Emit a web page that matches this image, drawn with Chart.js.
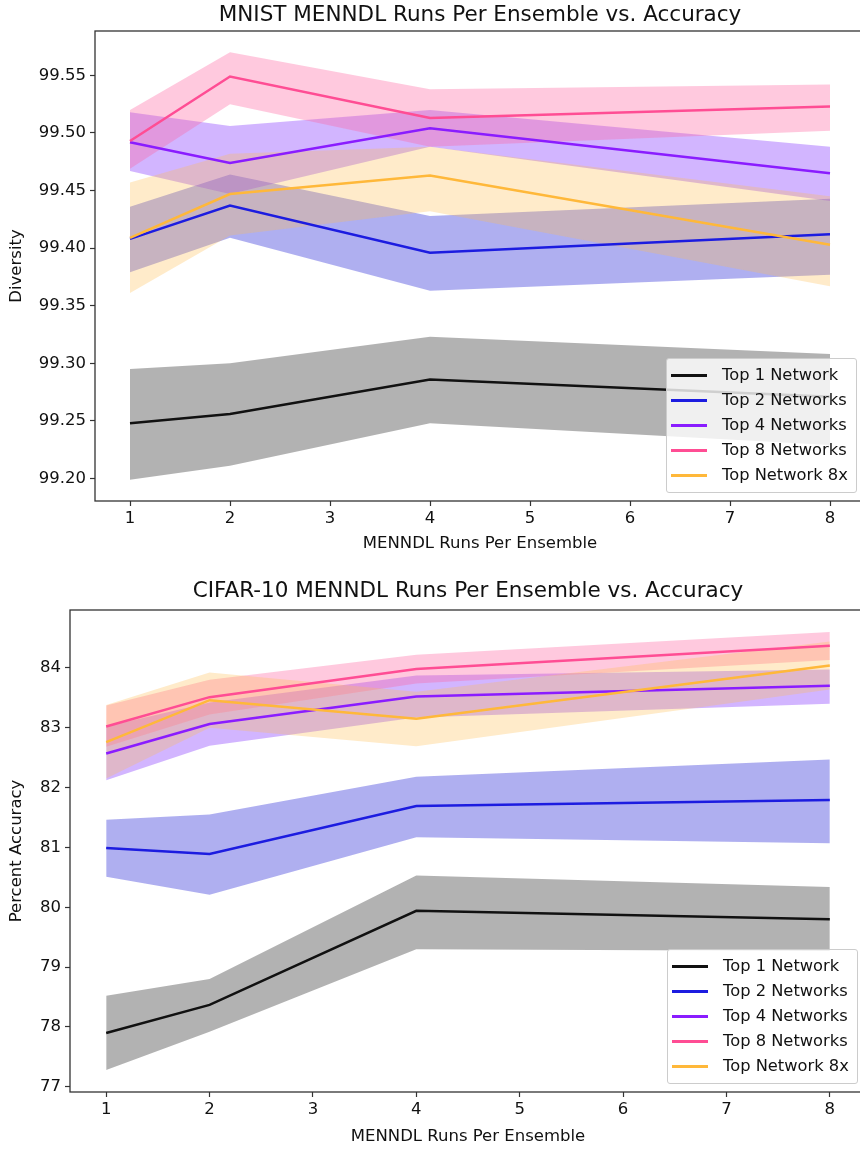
<!DOCTYPE html>
<html>
<head>
<meta charset="utf-8">
<script src="https://cdn.jsdelivr.net/npm/chart.js@4.4.1/dist/chart.umd.min.js"></script>
<style>
html, body { margin: 0; padding: 0; background: #fff; overflow: hidden; width: 860px; height: 1150px; }
.box { position: absolute; left: 0; width: 880px; }
#topBox { top: 0; height: 565px; }
#bottomBox { top: 565px; height: 585px; }
.legend { position: absolute; background: rgba(255,255,255,0.8); border: 1px solid #cccccc; border-radius: 3px;
  padding: 3px 8px 5px 4px; font: 16.3px 'DejaVu Sans', sans-serif; color: #111; }
.legend div { height: 25px; line-height: 25px; white-space: nowrap; }
.legend span { display: inline-block; width: 36px; height: 3px; vertical-align: middle; margin-right: 15px; }
</style>
</head>
<body>
<div class="box" id="topBox"><canvas id="mnistChart"></canvas></div>
<div class="box" id="bottomBox"><canvas id="cifarChart"></canvas></div>
<script>
// x values (MENNDL runs per ensemble)
const runs = [1, 2, 4, 8]
const runTicks = [1, 2, 3, 4, 5, 6, 7, 8]
const names = ["Top 1 Network", "Top 2 Networks", "Top 4 Networks", "Top 8 Networks", "Top Network 8x"]

// MNIST: mean, lower, upper
const mnistTop1 = [99.248, 99.256, 99.286, 99.271]
const mnistTop1Lo = [99.199, 99.211, 99.248, 99.229]
const mnistTop1Hi = [99.295, 99.300, 99.323, 99.308]
const mnistTop2 = [99.408, 99.437, 99.396, 99.412]
const mnistTop2Lo = [99.379, 99.409, 99.363, 99.377]
const mnistTop2Hi = [99.436, 99.464, 99.428, 99.443]
const mnistTop4 = [99.492, 99.474, 99.504, 99.465]
const mnistTop4Lo = [99.467, 99.447, 99.488, 99.441]
const mnistTop4Hi = [99.518, 99.506, 99.520, 99.488]
const mnistTop8 = [99.493, 99.549, 99.513, 99.523]
const mnistTop8Lo = [99.469, 99.525, 99.488, 99.502]
const mnistTop8Hi = [99.520, 99.570, 99.538, 99.542]
const mnistTop8x = [99.409, 99.447, 99.463, 99.403]
const mnistTop8xLo = [99.361, 99.411, 99.432, 99.367]
const mnistTop8xHi = [99.457, 99.482, 99.488, 99.445]
const mnistTicks = [99.20, 99.25, 99.30, 99.35, 99.40, 99.45, 99.50, 99.55]

// CIFAR-10: mean, lower, upper
const cifarTop1 = [77.90, 78.37, 79.94, 79.80]
const cifarTop1Lo = [77.28, 77.92, 79.30, 79.27]
const cifarTop1Hi = [78.52, 78.80, 80.53, 80.34]
const cifarTop2 = [80.99, 80.89, 81.69, 81.79]
const cifarTop2Lo = [80.51, 80.21, 81.17, 81.07]
const cifarTop2Hi = [81.46, 81.55, 82.18, 82.47]
const cifarTop4 = [82.57, 83.06, 83.52, 83.70]
const cifarTop4Lo = [82.12, 82.70, 83.17, 83.40]
const cifarTop4Hi = [83.02, 83.42, 83.87, 83.97]
const cifarTop8 = [83.02, 83.51, 83.98, 84.37]
const cifarTop8Lo = [82.68, 83.22, 83.74, 84.13]
const cifarTop8Hi = [83.37, 83.80, 84.22, 84.60]
const cifarTop8x = [82.76, 83.46, 83.15, 84.04]
const cifarTop8xLo = [82.15, 83.00, 82.69, 83.64]
const cifarTop8xHi = [83.38, 83.92, 83.60, 84.44]
const cifarTicks = [77, 78, 79, 80, 81, 82, 83, 84]

const lineColors = ["#111111", "#1c1ce0", "#8a1cff", "#ff4d94", "#ffb83a"]
const bandColors = ["rgba(0,0,0,0.3)", "rgba(20,20,210,0.34)", "rgba(130,50,255,0.36)",
                    "rgba(255,100,160,0.35)", "rgba(255,190,80,0.3)"]

Chart.defaults.font.family = "'DejaVu Sans', sans-serif"
Chart.defaults.color = "#111"

// box around the plot (matplotlib spines)
const frame = {
  id: "frame",
  afterDatasetsDraw(chart) {
    const { ctx, chartArea: a } = chart
    ctx.save()
    ctx.strokeStyle = "#333"
    ctx.lineWidth = 1.3
    ctx.strokeRect(a.left, a.top, a.right - a.left, a.bottom - a.top)
    ctx.restore()
  }
}

function pts(arr) {
  return arr.map((v, j) => ({ x: runs[j], y: v }))
}

function makeChart(id, title, yTitle, series, yTicks, decimals, lay) {
  const datasets = []
  // bands first (drawn below), black band at the bottom
  series.forEach((s, i) => {
    datasets.push({ data: pts(s[1]), borderColor: "rgba(0,0,0,0)", borderWidth: 0, pointRadius: 0, fill: false, order: 100 - i * 2 })
    datasets.push({ data: pts(s[2]), borderColor: "rgba(0,0,0,0)", borderWidth: 0, pointRadius: 0,
      fill: datasets.length - 1, backgroundColor: bandColors[i], order: 100 - i * 2 })
  })
  series.forEach((s, i) => {
    datasets.push({ label: names[i], data: pts(s[0]), borderColor: lineColors[i], borderWidth: 2.5,
      pointRadius: 0, fill: false, tension: 0, order: 10 - i })
  })

  let all = []
  series.forEach(s => { all = all.concat(s[1], s[2]) })
  const lo = Math.min(...all), hi = Math.max(...all)
  const pad = (hi - lo) * 0.05

  const tickGrid = { drawOnChartArea: false, drawTicks: true, tickLength: 5, tickColor: "#333", tickWidth: 1.2 }

  // title centred over the plot area, like matplotlib
  const plotTitle = {
    id: "plotTitle",
    afterDraw(chart) {
      const { ctx, chartArea: a } = chart
      ctx.save()
      ctx.font = "21.5px 'DejaVu Sans', sans-serif"
      ctx.fillStyle = "#111"
      ctx.textAlign = "center"
      ctx.textBaseline = "middle"
      ctx.fillText(title, (a.left + a.right) / 2, lay.titleY)
      ctx.restore()
    }
  }

  return new Chart(id, {
    type: "line",
    data: { datasets },
    options: {
      responsive: true,
      maintainAspectRatio: false,
      animation: false,
      layout: { padding: { left: 0, right: lay.right, top: lay.top, bottom: 0 } },
      plugins: {
        legend: { display: false },
        tooltip: { enabled: false },
        title: { display: false }
      },
      scales: {
        x: {
          type: "linear", min: 0.65, max: 8.35,
          afterBuildTicks: s => { s.ticks = runTicks.map(v => ({ value: v })) },
          afterFit: s => { s.height = lay.xHeight },
          ticks: { font: { size: 16.5 }, padding: 3, autoSkip: false, maxRotation: 0, callback: v => v },
          grid: tickGrid,
          border: { display: false },
          title: { display: true, text: "MENNDL Runs Per Ensemble", font: { size: 16.5 }, padding: { top: 0, bottom: lay.xTitleBottom } }
        },
        y: {
          type: "linear", min: lo - pad, max: hi + pad,
          afterBuildTicks: s => { s.ticks = yTicks.map(v => ({ value: v })) },
          afterFit: s => { s.width = lay.yWidth },
          ticks: { font: { size: 16.5 }, padding: 4, callback: v => v.toFixed(decimals) },
          grid: tickGrid,
          border: { display: false },
          title: { display: true, text: yTitle, font: { size: 16.5 }, padding: { top: 7, bottom: 0 } }
        }
      }
    },
    plugins: [frame, plotTitle]
  })
}

function addLegend(boxId, chart) {
  const box = document.getElementById(boxId)
  const lg = document.createElement("div")
  lg.className = "legend"
  names.forEach((n, i) => {
    const row = document.createElement("div")
    const sw = document.createElement("span")
    sw.style.background = lineColors[i]
    row.appendChild(sw)
    row.appendChild(document.createTextNode(n))
    lg.appendChild(row)
  })
  box.appendChild(lg)
  const a = chart.chartArea
  lg.style.left = Math.round(a.right - 8 - lg.offsetWidth) + "px"
  lg.style.top = Math.round(a.bottom - 8 - lg.offsetHeight) + "px"
}

const mnist = makeChart("mnistChart", "MNIST MENNDL Runs Per Ensemble vs. Accuracy", "Diversity", [
  [mnistTop1, mnistTop1Lo, mnistTop1Hi],
  [mnistTop2, mnistTop2Lo, mnistTop2Hi],
  [mnistTop4, mnistTop4Lo, mnistTop4Hi],
  [mnistTop8, mnistTop8Lo, mnistTop8Hi],
  [mnistTop8x, mnistTop8xLo, mnistTop8xHi]
], mnistTicks, 2, { right: 15, top: 31, titleY: 15, xHeight: 64, xTitleBottom: 11, yWidth: 95 })

const cifar = makeChart("cifarChart", "CIFAR-10 MENNDL Runs Per Ensemble vs. Accuracy", "Percent Accuracy", [
  [cifarTop1, cifarTop1Lo, cifarTop1Hi],
  [cifarTop2, cifarTop2Lo, cifarTop2Hi],
  [cifarTop4, cifarTop4Lo, cifarTop4Hi],
  [cifarTop8, cifarTop8Lo, cifarTop8Hi],
  [cifarTop8x, cifarTop8xLo, cifarTop8xHi]
], cifarTicks, 0, { right: 14, top: 45, titleY: 26, xHeight: 58, xTitleBottom: 3, yWidth: 70 })

addLegend("topBox", mnist)
addLegend("bottomBox", cifar)
</script>
</body>
</html>
